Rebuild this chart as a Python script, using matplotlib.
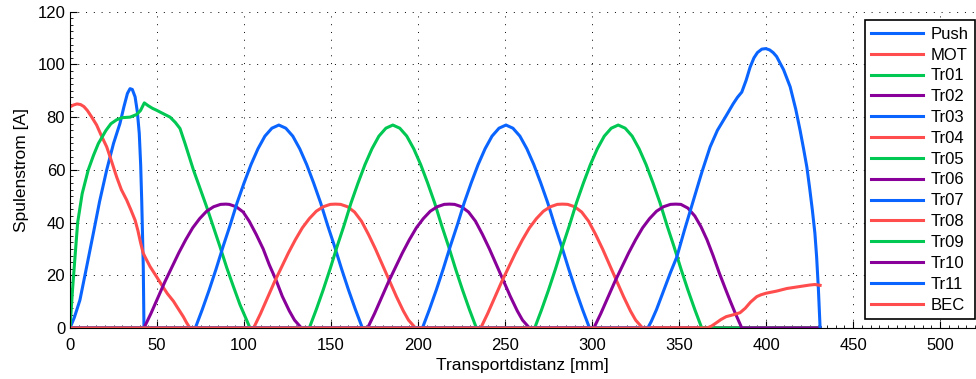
import numpy as np
import matplotlib.pyplot as plt
from matplotlib.ticker import MultipleLocator

plt.rcParams['font.family'] = ['Liberation Sans', 'DejaVu Sans']

# transport distance [mm] and coil current [A]
push_x = [0, 2.5, 5.7, 9.5, 13.4, 17, 21.1, 25, 28.7, 31, 33, 34.5, 35.8, 37.4, 38.7,
          39.8, 40.6, 41.2, 42.1, 42.5, 431]
push_y = [0, 4, 10.6, 23, 35.9, 48, 60, 70, 77.6, 84, 89, 90.8, 90.5, 87.7, 82,
          73.8, 62, 48.5, 23.4, 0, 0]

mot_x = [0, 2, 4, 6, 8, 10, 12.5, 15.3, 18, 21.1, 24, 26.8, 29.5, 32.6, 35, 37.4, 39,
         40.5, 42, 43.1, 46, 49.8, 53, 56, 59.4, 62, 65.1, 67, 68.9, 431]
mot_y = [83.9, 84.6, 85, 84.8, 84, 82.5, 80, 77, 73, 68.7, 63, 57.3, 52.5, 48.5, 44.8, 40.9, 37,
         32.5, 28.5, 27, 23.3, 19.4, 16, 13, 10.2, 7.5, 4.3, 2, 0, 0]

tr01_x = [0, 1.5, 3, 4.4, 7, 10.5, 13.5, 16.3, 20.7, 23.5, 26.8, 30, 34.5, 38.3, 40.5, 42.7,
          45, 47.5, 49.8, 53, 57.5, 60.5, 63.2, 66.1, 68.5, 70.9, 74.7, 78.5, 82.3, 86.2,
          90, 93.9, 97.7, 101.5, 103.4, 431]
tr01_y = [0, 15, 28, 40, 51, 60, 65.5, 70, 75, 77.5, 79, 79.8, 80, 81, 82.5, 85.4,
          84.3, 83.3, 82.6, 81.5, 80, 78, 75.7, 70, 65, 60, 53, 46, 38.5, 30.8,
          23, 15.7, 8.8, 3, 0, 0]

tr02_x = [0, 42.5, 46.5, 50.5, 54.5, 58.5, 62.5, 66.5, 70.5, 74.5, 78.5, 82.5, 86.5, 89.5,
          91.5, 95.5, 99.5, 103, 107, 111, 114.5, 118.5, 122, 126, 129, 133, 431]
tr02_y = [0, 0, 5.5, 11.5, 17.5, 23, 28.5, 33.5, 38, 41.5, 44.3, 46, 46.9, 47,
          46.9, 46, 44, 40.5, 35.5, 30, 24, 18, 12, 6.5, 3, 0, 0]

tr03_x = [0, 72, 76, 80, 84, 88, 92, 96, 100, 104, 108, 112, 116, 120,
          124, 128, 132, 136, 140, 144, 148, 152, 156, 160, 164, 168, 431]
tr03_y = [0, 0, 7, 14.5, 22.5, 31, 39, 47.5, 55, 62, 68, 72.8, 75.8, 77,
          75.8, 72.8, 68, 62, 55, 47.5, 39, 31, 22.5, 14.5, 7, 0, 0]

tr04_x = [0, 105.5, 109.5, 113.5, 117.5, 121.5, 125.5, 129.5, 133.5, 137.5, 141.5, 145.5, 149.5, 152.5,
          155.5, 159.5, 163.5, 167.5, 171.5, 175.5, 179.5, 183.5, 187.5, 191.5, 194.5, 198.5, 431]
tr04_y = [0, 0, 5.5, 11.5, 17.5, 23, 28.5, 33.5, 38, 41.5, 44.3, 46, 46.9, 47,
          46.9, 46, 44, 40.5, 35.5, 30, 24, 18, 12, 6.5, 3, 0, 0]

tr05_x = [0, 137.5, 141.5, 145.5, 149.5, 153.5, 157.5, 161.5, 165.5, 169.5, 173.5, 177.5, 181.5, 185.5,
          189.5, 193.5, 197.5, 201.5, 205.5, 209.5, 213.5, 217.5, 221.5, 225.5, 229.5, 233.5, 431]
tr05_y = [0, 0, 7, 14.5, 22.5, 31, 39, 47.5, 55, 62, 68, 72.8, 75.8, 77,
          75.8, 72.8, 68, 62, 55, 47.5, 39, 31, 22.5, 14.5, 7, 0, 0]

tr06_x = [0, 171, 175, 179, 183, 187, 191, 195, 199, 203, 207, 211, 215, 218,
          221, 225, 229, 233, 237, 241, 245, 249, 253, 257, 260, 264, 431]
tr06_y = [0, 0, 5.5, 11.5, 17.5, 23, 28.5, 33.5, 38, 41.5, 44.3, 46, 46.9, 47,
          46.9, 46, 44, 40.5, 35.5, 30, 24, 18, 12, 6.5, 3, 0, 0]

tr07_x = [0, 202.5, 206.5, 210.5, 214.5, 218.5, 222.5, 226.5, 230.5, 234.5, 238.5, 242.5, 246.5, 250.5,
          254.5, 258.5, 262.5, 266.5, 270.5, 274.5, 278.5, 282.5, 286.5, 290.5, 294.5, 298.5, 431]
tr07_y = [0, 0, 7, 14.5, 22.5, 31, 39, 47.5, 55, 62, 68, 72.8, 75.8, 77,
          75.8, 72.8, 68, 62, 55, 47.5, 39, 31, 22.5, 14.5, 7, 0, 0]

tr08_x = [0, 236, 240, 244, 248, 252, 256, 260, 264, 268, 272, 276, 280, 283,
          286, 290, 294, 298, 302, 306, 310, 314, 318, 322, 325, 329, 431]
tr08_y = [0, 0, 5.5, 11.5, 17.5, 23, 28.5, 33.5, 38, 41.5, 44.3, 46, 46.9, 47,
          46.9, 46, 44, 40.5, 35.5, 30, 24, 18, 12, 6.5, 3, 0, 0]

tr09_x = [0, 267, 271, 275, 279, 283, 287, 291, 295, 299, 303, 307, 311, 315,
          319, 323, 327, 331, 335, 339, 343, 347, 351, 355, 359, 363, 431]
tr09_y = [0, 0, 7, 14.5, 22.5, 31, 39, 47.5, 55, 62, 68, 72.8, 75.8, 77,
          75.8, 72.8, 68, 62, 55, 47.5, 39, 31, 22.5, 14.5, 7, 0, 0]

tr10_x = [0, 301, 305, 309, 313, 317, 321, 325, 329, 333, 337, 341, 345, 348,
          351, 355, 359, 362.5, 366, 369.5, 373, 376.5, 379.5, 382, 384, 386, 431]
tr10_y = [0, 0, 5.5, 11.5, 17.5, 23, 28.5, 33.5, 38, 41.5, 44.3, 46, 46.9, 47,
          46.9, 45.5, 42.5, 38.5, 33.5, 27.5, 21, 15, 10, 6, 3, 0, 0]

tr11_x = [0, 332, 334, 337, 341, 345, 348.7, 353, 358, 363, 367.8, 372, 377, 381, 383.5,
          386, 388.5, 390.8, 393, 395, 397.5, 399.8, 402, 404, 406, 410, 413.8, 417,
          419.5, 421.5, 423.4, 425, 426.5, 428, 429, 430, 431]
tr11_y = [0, 0, 2.5, 7, 14, 21, 27, 37, 48, 59, 68.7, 75, 80.5, 85, 87.5,
          89.5, 94, 99, 102.5, 104.5, 105.8, 106, 105.5, 104.5, 103, 98, 91.5, 83,
          75, 68, 61, 53, 45, 36, 27, 15, 0]

bec_x = [0, 366, 368.5, 371, 374, 377, 381, 385, 388, 391, 394.6, 397, 400, 406, 412,
         420, 425, 428, 431]
bec_y = [0, 0, 0.7, 1.8, 3.2, 4.3, 5, 5.8, 7.5, 9.8, 11.9, 12.6, 13.2, 14, 15,
         15.8, 16.3, 16.5, 16.2]

names = ['Push', 'MOT', 'Tr01', 'Tr02', 'Tr03', 'Tr04', 'Tr05', 'Tr06',
         'Tr07', 'Tr08', 'Tr09', 'Tr10', 'Tr11', 'BEC']
xs = [push_x, mot_x, tr01_x, tr02_x, tr03_x, tr04_x, tr05_x, tr06_x,
      tr07_x, tr08_x, tr09_x, tr10_x, tr11_x, bec_x]
ys = [push_y, mot_y, tr01_y, tr02_y, tr03_y, tr04_y, tr05_y, tr06_y,
      tr07_y, tr08_y, tr09_y, tr10_y, tr11_y, bec_y]

cols = ['#0a64ff', '#ff4d4d', '#00c853', '#880099']

fig = plt.figure(figsize=(9.76, 3.79), dpi=100)
ax = fig.add_axes([70 / 976, 1 - 328 / 379, 905 / 976, (328 - 11.7) / 379])

for i in range(len(names)):
    ax.plot(xs[i], ys[i], color=cols[i % 4], lw=2.2, label=names[i],
            solid_joinstyle='round')

ax.set_xlim(0, 520)
ax.set_ylim(0, 120)
ax.xaxis.set_major_locator(MultipleLocator(50))
ax.yaxis.set_major_locator(MultipleLocator(20))
ax.xaxis.set_minor_locator(MultipleLocator(5))
ax.yaxis.set_minor_locator(MultipleLocator(2.5))
ax.tick_params(which='both', direction='in', labelsize=12)
ax.tick_params(axis='x', which='major', pad=7)
ax.tick_params(which='major', length=5, width=0.8)
ax.tick_params(which='minor', length=2.5, width=0.6)
ax.spines['top'].set_visible(False)
ax.spines['right'].set_visible(False)
ax.grid(True, which='major', linestyle=(0, (1, 7)), color='black', lw=0.7)

ax.set_xlabel('Transportdistanz [mm]', fontsize=12.5, labelpad=4)
ax.set_ylabel('Spulenstrom [A]', fontsize=12.5, labelpad=6)

leg = ax.legend(loc='upper right', bbox_to_anchor=(975 / 976, 1 - 20 / 379),
                bbox_transform=fig.transFigure, borderaxespad=0, fontsize=12,
                handlelength=3.1, handletextpad=0.45, labelspacing=0.35,
                fancybox=False, framealpha=1, edgecolor='black')
leg.get_frame().set_linewidth(1.2)

fig.savefig('out.png', dpi=100)
